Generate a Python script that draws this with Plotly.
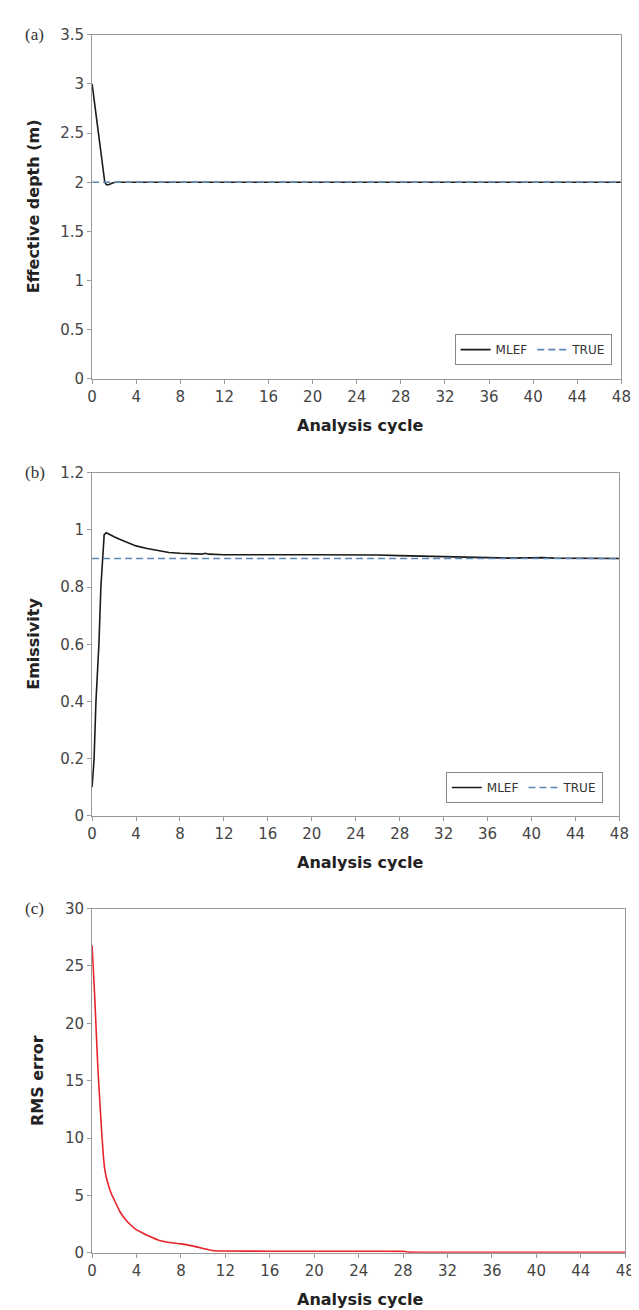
import plotly.graph_objects as go

# ---------------- data ----------------
cycle_a = [0, 0.25, 0.5, 0.75, 1.0, 1.15, 1.3, 1.5, 1.7, 1.9, 2.2, 3, 8, 16, 24, 32, 40, 48]
depth_mlef = [3.0, 2.78, 2.55, 2.32, 2.1, 2.0, 1.975, 1.975, 1.985, 1.995, 2.0, 2.0,
              2.0, 2.0, 2.0, 2.0, 2.0, 2.0]
true_cycles = [0, 48]
depth_true = [2.0, 2.0]

cycle_b = [0, 0.18, 0.35, 0.62, 0.8, 1.0, 1.1, 1.3, 1.6, 2, 2.5, 3, 3.5, 4, 5, 6, 7, 8,
           9, 10, 10.3, 10.6, 12, 14, 16, 20, 24, 26, 28, 30, 32, 34, 36, 38, 40, 41,
           42, 44, 46, 48]
emis_mlef = [0.10, 0.2, 0.4, 0.6, 0.8, 0.95, 0.983, 0.99, 0.983, 0.976, 0.967, 0.959,
             0.951, 0.944, 0.935, 0.927, 0.921, 0.918, 0.916, 0.915, 0.918, 0.915,
             0.913, 0.912, 0.913, 0.913, 0.913, 0.912, 0.910, 0.908, 0.905, 0.904,
             0.902, 0.901, 0.902, 0.903, 0.901, 0.900, 0.900, 0.900]
emis_true = [0.9, 0.9]

cycle_c = [0, 0.25, 0.5, 0.75, 1.0, 1.15, 1.3, 1.5, 1.75, 2, 2.5, 3, 3.5, 4, 4.5, 5, 6,
           7, 8, 9, 10, 10.8, 12, 16, 20, 24, 28, 28.5, 32, 36, 40, 44, 48]
rms_err = [26.8, 22.0, 16.5, 12.3, 8.6, 7.2, 6.5, 5.8, 5.1, 4.6, 3.6, 2.9, 2.4, 2.0,
           1.75, 1.5, 1.1, 0.9, 0.78, 0.6, 0.38, 0.2, 0.15, 0.14, 0.14, 0.13, 0.12,
           0.06, 0.05, 0.05, 0.05, 0.05, 0.05]

x_ticks = list(range(0, 49, 4))
x_title = "Analysis cycle"
y_titles = ["Effective depth (m)", "Emissivity", "RMS error"]
panel_labels = ["(a)", "(b)", "(c)"]

# ---------------- layout geometry ----------------
W, H = 639, 1310
def px_x(x):
    return x / W
def px_y(y):
    return 1 - y / H

panels = [  # left, right, top, bottom in px
    (81, 623, 18, 367),
    (81, 621, 462, 810),
    (81, 627, 904, 1253),
]

BLACK = "#1a1a1a"
BLUE = "#5b86b8"
RED = "#e8242c"
TICKFONT = dict(family="DejaVu Sans", size=15, color="#444444")
TITLEFONT = dict(family="DejaVu Sans", size=16, color="#222222")

fig = go.Figure()

fig.add_trace(go.Scatter(x=cycle_a, y=depth_mlef, mode="lines", name="MLEF",
                         line=dict(color=BLACK, width=1.6), xaxis="x", yaxis="y",
                         legend="legend"))
fig.add_trace(go.Scatter(x=true_cycles, y=depth_true, mode="lines", name="TRUE",
                         line=dict(color=BLUE, width=1.6, dash="7px,4px"),
                         xaxis="x", yaxis="y", legend="legend"))

fig.add_trace(go.Scatter(x=cycle_b, y=emis_mlef, mode="lines", name="MLEF",
                         line=dict(color=BLACK, width=1.6), xaxis="x2", yaxis="y2",
                         legend="legend2"))
fig.add_trace(go.Scatter(x=true_cycles, y=emis_true, mode="lines", name="TRUE",
                         line=dict(color=BLUE, width=1.6, dash="7px,4px"),
                         xaxis="x2", yaxis="y2", legend="legend2"))

fig.add_trace(go.Scatter(x=cycle_c, y=rms_err, mode="lines", name="RMS",
                         line=dict(color=RED, width=1.6, shape="spline", smoothing=0.6),
                         xaxis="x3", yaxis="y3", showlegend=False))

yranges = [([0, 3.5], 0.5), ([0, 1.2], 0.2), ([0, 30], 5)]

axis_common = dict(showgrid=False, zeroline=False, showline=True, linecolor="#999999",
                   linewidth=1, mirror=True, ticks="outside", ticklen=4,
                   tickcolor="#999999", tickfont=TICKFONT)

layout = dict(width=W, height=H, margin=dict(l=0, r=0, t=0, b=0),
              paper_bgcolor="white", plot_bgcolor="white", showlegend=True)

annotations = []
for i, (l, r, t, b) in enumerate(panels):
    sfx = "" if i == 0 else str(i + 1)
    layout["xaxis" + sfx] = dict(domain=[px_x(l), px_x(r)], range=[0, 48],
                                 tickvals=x_ticks, anchor="y" + sfx, **axis_common)
    rng, dt = yranges[i]
    layout["yaxis" + sfx] = dict(domain=[px_y(b), px_y(t)], range=rng, dtick=dt,
                                 tick0=0, anchor="x" + sfx, **axis_common)
    # x-axis title
    annotations.append(dict(text="<b>%s</b>" % x_title, x=px_x(355), y=px_y(b + 47),
                            xref="paper", yref="paper", showarrow=False,
                            xanchor="center", yanchor="middle", font=TITLEFONT))
    # y-axis title
    annotations.append(dict(text="<b>%s</b>" % y_titles[i], x=px_x(21 if i < 2 else 25),
                            y=px_y((t + b) / 2), xref="paper", yref="paper",
                            showarrow=False, textangle=-90, xanchor="center",
                            yanchor="middle", font=TITLEFONT))
    # panel label
    annotations.append(dict(text=panel_labels[i], x=px_x(10), y=px_y(t),
                            xref="paper", yref="paper", showarrow=False,
                            xanchor="left", yanchor="middle",
                            font=dict(family="Liberation Serif", size=17, color="#333333")))

layout["annotations"] = annotations

legend_common = dict(orientation="h", bgcolor="white", bordercolor="#888888",
                     borderwidth=1, font=dict(family="DejaVu Sans", size=12, color="#333333"),
                     xanchor="right", yanchor="bottom", itemwidth=30)
layout["legend"] = dict(x=px_x(613), y=px_y(353), **legend_common)
layout["legend2"] = dict(x=px_x(604), y=px_y(797), **legend_common)

fig.update_layout(**layout)
fig.write_html("out.html")
